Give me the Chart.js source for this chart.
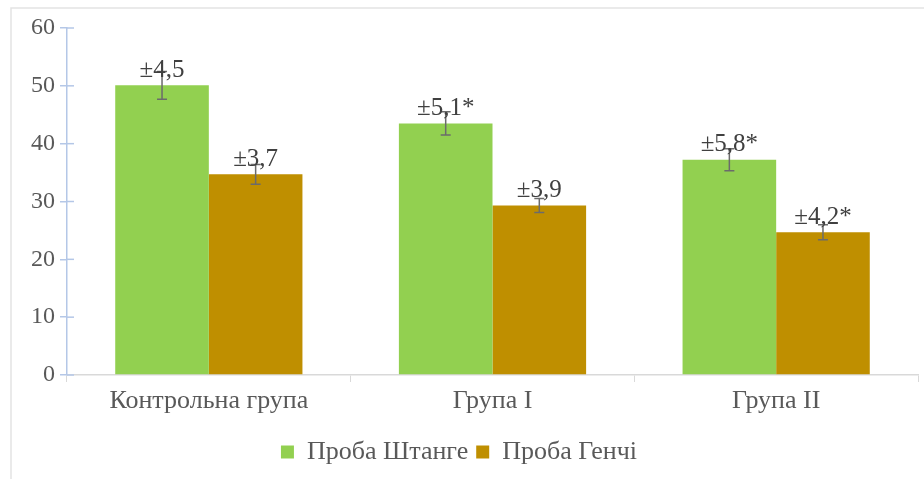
<!DOCTYPE html>
<html>
<head>
<meta charset="utf-8">
<script src="https://cdn.jsdelivr.net/npm/chart.js@4.4.0/dist/chart.umd.min.js"></script>
<style>
    html, body { margin: 0; padding: 0; background: #fff; }
    #wrap { width: 924px; height: 479px; position: relative; }
</style>
</head>
<body>
<div id="wrap"><canvas id="chart" width="924" height="479"></canvas></div>
<script>
// Data
const categories = ['Контрольна група', 'Група I', 'Група II'];
const seriesNames = ['Проба Штанге', 'Проба Генчі'];
const shtange = [50.1, 43.5, 37.2];
const genchi = [34.7, 29.3, 24.7];
const shtangeLabels = ['±4,5', '±5,1*', '±5,8*'];
const genchiLabels = ['±3,7', '±3,9', '±4,2*'];
// error whiskers as drawn in the picture (value units)
const shtangeErr = [2.4, 2.0, 1.9];
const genchiErr = [1.7, 1.2, 1.3];
const yTicks = [0, 10, 20, 30, 40, 50, 60];

const FONT = 'Liberation Serif';
const TEXT = '#595959';

// Frame, inner tick halves, error bars and value labels
const extras = {
    id: 'extras',
    beforeDraw(chart) {
        const c = chart.ctx;
        c.save();
        c.strokeStyle = '#e3e3e3';
        c.lineWidth = 1.5;
        c.beginPath();
        c.moveTo(11, chart.height);
        c.lineTo(11, 8);
        c.lineTo(chart.width, 8);
        c.stroke();
        c.restore();
    },
    afterDatasetsDraw(chart) {
        const c = chart.ctx;
        const y = chart.scales.y;
        const x0 = chart.chartArea.left;
        c.save();
        // inner half of y ticks
        c.strokeStyle = '#b4c7e7';
        c.lineWidth = 1.5;
        yTicks.forEach(v => {
            const py = y.getPixelForValue(v);
            c.beginPath();
            c.moveTo(x0, py);
            c.lineTo(x0 + 7, py);
            c.stroke();
        });
        const errs = [shtangeErr, genchiErr];
        const labels = [shtangeLabels, genchiLabels];
        chart.data.datasets.forEach((ds, di) => {
            const meta = chart.getDatasetMeta(di);
            meta.data.forEach((bar, i) => {
                const v = ds.data[i];
                const top = y.getPixelForValue(v + errs[di][i]);
                const bot = y.getPixelForValue(v - errs[di][i]);
                c.strokeStyle = '#6b6b6b';
                c.lineWidth = 1.5;
                c.beginPath();
                c.moveTo(bar.x, top);
                c.lineTo(bar.x, bot);
                c.moveTo(bar.x - 5, top);
                c.lineTo(bar.x + 5, top);
                c.moveTo(bar.x - 5, bot);
                c.lineTo(bar.x + 5, bot);
                c.stroke();
                c.fillStyle = '#404040';
                c.font = '25px "' + FONT + '"';
                c.textAlign = 'center';
                c.textBaseline = 'middle';
                c.fillText(labels[di][i], bar.x, bar.y - 15);
            });
        });
        c.restore();
    }
};

const ctx = document.getElementById('chart').getContext('2d');
const chart = new Chart(ctx, {
    type: 'bar',
    data: {
        labels: categories,
        datasets: [{
            label: seriesNames[0],
            data: shtange,
            backgroundColor: '#92d050',
            categoryPercentage: 0.66,
            barPercentage: 1
        }, {
            label: seriesNames[1],
            data: genchi,
            backgroundColor: '#bf8f00',
            categoryPercentage: 0.66,
            barPercentage: 1
        }]
    },
    options: {
        responsive: false,
        animation: false,
        layout: {
            padding: { top: 28, right: 6, bottom: 4, left: 0 }
        },
        plugins: {
            legend: {
                position: 'bottom',
                labels: {
                    font: { family: FONT, size: 26 },
                    color: TEXT,
                    boxWidth: 13,
                    boxHeight: 13,
                    padding: 8
                }
            },
            tooltip: { enabled: false }
        },
        scales: {
            x: {
                grid: {
                    display: true,
                    drawOnChartArea: false,
                    drawTicks: true,
                    tickLength: 7,
                    color: '#d9d9d9',
                    offset: true
                },
                border: { color: '#d9d9d9', width: 1.5 },
                ticks: {
                    font: { family: FONT, size: 26 },
                    color: TEXT,
                    padding: 4
                },
                afterFit(scale) { scale.height = 56; }
            },
            y: {
                min: 0,
                max: 60,
                ticks: {
                    stepSize: 10,
                    font: { family: FONT, size: 24 },
                    color: TEXT,
                    padding: 5
                },
                grid: {
                    display: true,
                    drawOnChartArea: false,
                    drawTicks: true,
                    tickLength: 7,
                    color: '#b4c7e7',
                    lineWidth: 1.5
                },
                border: { color: '#b4c7e7', width: 1.5 },
                afterFit(scale) { scale.width = 67; }
            }
        }
    },
    plugins: [extras]
});
</script>
</body>
</html>
